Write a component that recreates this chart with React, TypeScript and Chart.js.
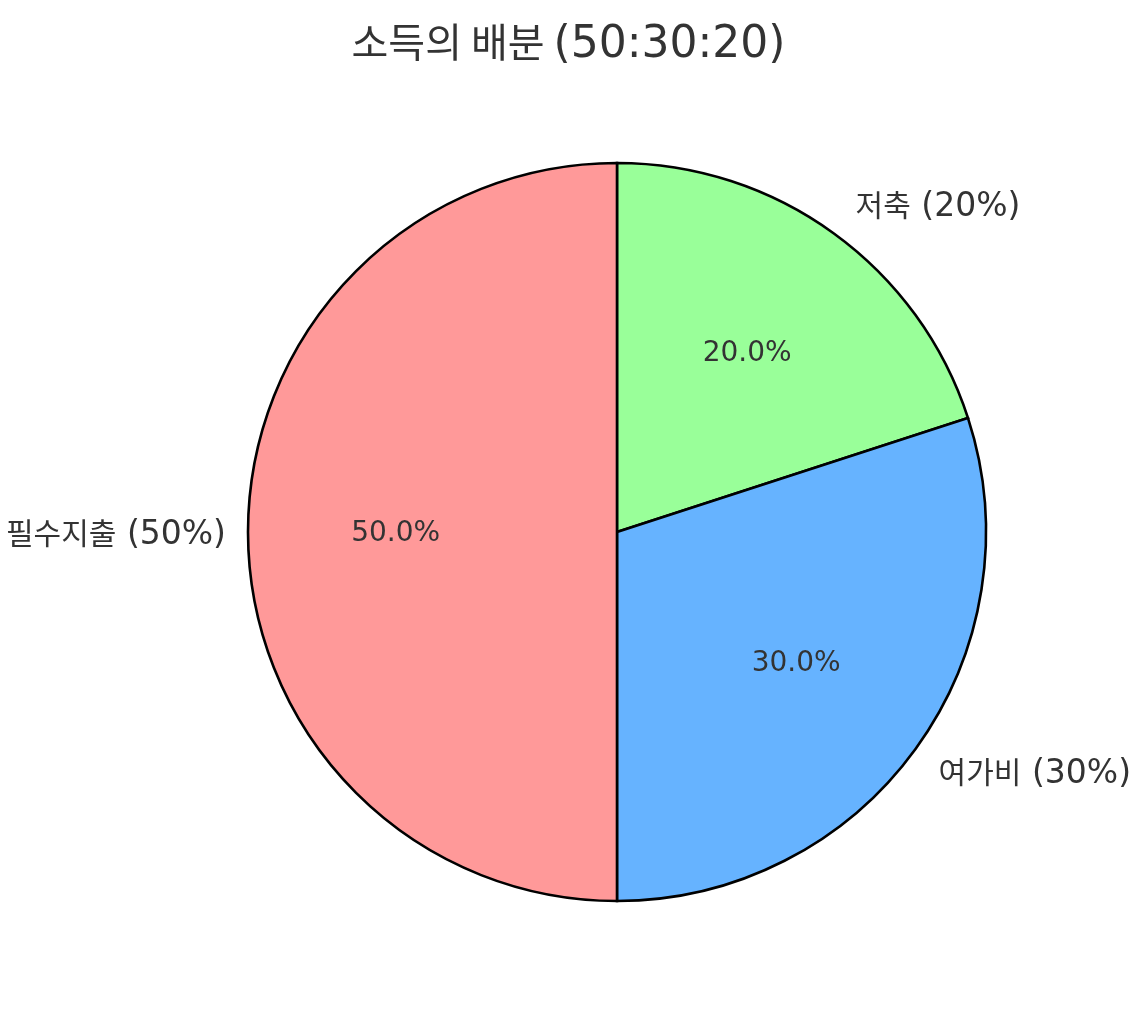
import React, { useEffect, useRef } from "react";
import { Chart, registerables } from "chart.js";

Chart.register(...registerables);

const TITLE_KO = "소득의 배분";
const TITLE_RATIO = "(50:30:20)";
// clockwise from 12 o'clock (Chart.js draws clockwise)
const categories = ["저축", "여가비", "필수지출"];
const shares = [20, 30, 50];
const colors = ["#99ff99", "#66b3ff", "#ff9999"];

const LATIN = "'DejaVu Sans', 'Noto Sans CJK KR', sans-serif";
const KOREAN = "'Noto Sans CJK KR', 'DejaVu Sans', sans-serif";
const TEXT = "#333333";

type Part = { text: string; font: string };

function drawMixed(
  ctx: CanvasRenderingContext2D,
  parts: Part[],
  x: number,
  y: number,
  align: "left" | "right" | "center",
  minX: number,
  maxX: number
) {
  let total = 0;
  const widths = parts.map((p) => {
    ctx.font = p.font;
    const w = ctx.measureText(p.text).width;
    total += w;
    return w;
  });
  let start = align === "left" ? x : align === "right" ? x - total : x - total / 2;
  start = Math.max(start, minX);
  start = Math.min(start, maxX - total);
  ctx.textAlign = "left";
  ctx.textBaseline = "alphabetic";
  parts.forEach((p, i) => {
    ctx.font = p.font;
    ctx.fillText(p.text, start, y);
    start += widths[i];
  });
}

const textPlugin = {
  id: "pieText",
  afterDraw(chart: any) {
    const ctx: CanvasRenderingContext2D = chart.ctx;
    const W = chart.width;
    ctx.save();
    ctx.fillStyle = TEXT;
    // title
    drawMixed(
      ctx,
      [
        { text: TITLE_KO + " ", font: `40px ${KOREAN}` },
        { text: TITLE_RATIO, font: `44px ${LATIN}` },
      ],
      W / 2 + 0,
      57,
      "center",
      4,
      W - 4
    );
    const meta = chart.getDatasetMeta(0);
    const total = shares.reduce((a, b) => a + b, 0);
    meta.data.forEach((arc: any, i: number) => {
      const { x, y, startAngle, endAngle, outerRadius } = arc.getProps(
        ["x", "y", "startAngle", "endAngle", "outerRadius"],
        true
      );
      const mid = (startAngle + endAngle) / 2;
      const c = Math.cos(mid);
      const s = Math.sin(mid);
      // outer label
      const lx = x + c * outerRadius * 1.1;
      const ly = y + s * outerRadius * 1.1;
      const pct = Math.round((shares[i] / total) * 100);
      drawMixed(
        ctx,
        [
          { text: categories[i], font: `30px ${KOREAN}` },
          { text: ` (${pct}%)`, font: `33px ${LATIN}` },
        ],
        lx,
        ly + 12,
        c > 0 ? "left" : "right",
        6,
        W - 6
      );
      // inner percentage
      const px = x + c * outerRadius * 0.6;
      const py = y + s * outerRadius * 0.6;
      ctx.font = `28px ${LATIN}`;
      ctx.textAlign = "center";
      ctx.textBaseline = "alphabetic";
      ctx.fillText(((shares[i] / total) * 100).toFixed(1) + "%", px, py + 8.5);
    });
    ctx.restore();
  },
};

export default function App() {
  const ref = useRef<HTMLCanvasElement | null>(null);
  useEffect(() => {
    document.body.style.margin = "0";
    if (!ref.current) return;
    const chart = new Chart(ref.current, {
      type: "pie",
      data: {
        labels: categories,
        datasets: [
          {
            data: shares,
            backgroundColor: colors,
            borderColor: "#000000",
            borderWidth: 2.6,
            borderAlign: "center",
            borderJoinStyle: "miter",
          },
        ],
      },
      options: {
        responsive: false,
        animation: false,
        events: [],
        radius: 369,
        rotation: 0,
        layout: { padding: { left: 97, right: 0, top: 50, bottom: 0 } },
        plugins: {
          legend: { display: false },
          title: { display: false },
          tooltip: { enabled: false },
        },
      } as any,
      plugins: [textPlugin],
    });
    return () => chart.destroy();
  }, []);
  return (
    <div style={{ position: "absolute", left: 0, top: 0, width: 1137, height: 1014, background: "#ffffff" }}>
      <canvas ref={ref} width={1137} height={1014} />
    </div>
  );
}
